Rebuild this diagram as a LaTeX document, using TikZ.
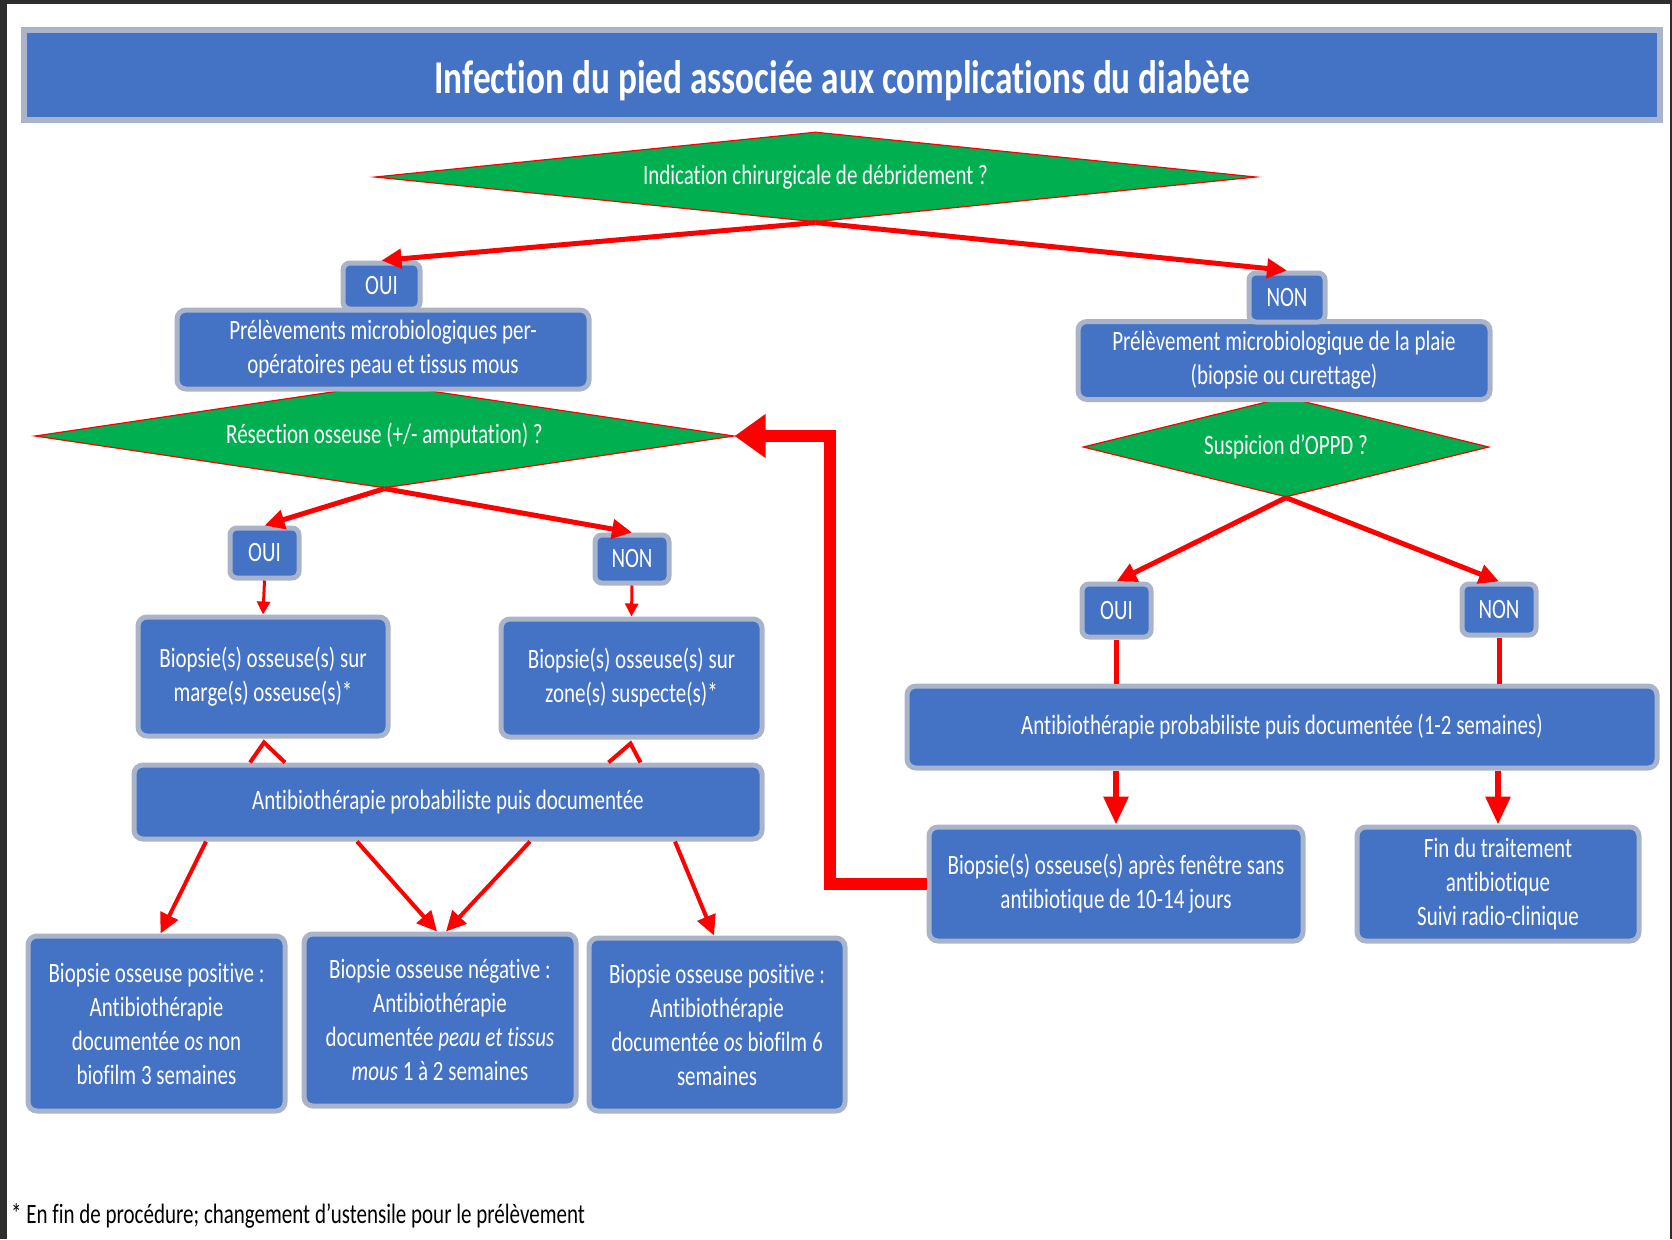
\documentclass[tikz,border=0pt]{standalone}
\usepackage{fontspec}
\setmainfont{Carlito}[FakeStretch=0.75, Ligatures=NoCommon]
\usetikzlibrary{shapes.geometric,arrows.meta,calc}

\definecolor{boxblue}{HTML}{4472C4}
\definecolor{boxedge}{HTML}{A9B4CB}
\definecolor{okgreen}{HTML}{00B050}
\definecolor{linkred}{HTML}{FF0000}
\definecolor{frame}{HTML}{2E2E2E}

\newcommand\boxfont{\fontsize{28}{34}\selectfont}
\newcommand\headfont{\fontsize{47}{54}\selectfont\bfseries}

\begin{document}
\begin{tikzpicture}[x=1pt,y=-1pt,
  box/.style={rectangle, rounded corners=9pt, fill=boxblue, draw=boxedge,
    line width=5pt, text=white, align=center, inner sep=0pt, font=\boxfont},
  tag/.style={box, rounded corners=7pt},
  decision/.style={diamond, fill=okgreen, draw=linkred, line width=1.2pt,
    text=white, inner sep=0pt, font=\boxfont},
  flow/.style={draw=linkred, line width=5pt, -{Triangle[length=20pt,width=19pt]}},
  thinflow/.style={draw=linkred, line width=3pt, -{Triangle[length=13pt,width=13pt]}},
  bigflow/.style={draw=linkred, line width=6pt, -{Triangle[length=28pt,width=24pt]}},
  plain/.style={draw=linkred, line width=5pt},
  loopback/.style={draw=linkred, line width=12pt, -{Triangle[length=31pt,width=42pt]}},
  hat/.style={draw=linkred, line width=4pt},
]
\useasboundingbox (0,0) rectangle (1672,1239);

% page frame
\fill[frame] (0,0) rectangle (1672,1239);
\fill[white] (7,4) rectangle (1670,1239);

% title banner and its heading
\node[box, rounded corners=0pt, line width=6pt, minimum width=1636, minimum height=90] (title) at (842,75) {};
\node[font=\headfont, text=white, inner sep=0pt] (heading) at ($(title.center)+(0,6)$)
  {Infection du pied associée aux complications du diabète};

% decisions
\node[decision, shape aspect=9.8, minimum width=881, minimum height=90] (d1) at (815.5,177)
  {Indication chirurgicale de débridement ?};
\node[decision, shape aspect=6.7, minimum width=699, minimum height=104] (d2) at (384.5,436)
  {Résection osseuse (+/- amputation) ?};
\node[decision, shape aspect=4, minimum width=406, minimum height=100] (d3) at (1286,447)
  {Suspicion d’OPPD ?};

% left branch
\node[box, minimum width=412, minimum height=79] (p1) at (383,349.5)
  {Prélèvements microbiologiques per-\\opératoires peau et tissus mous};
\node[tag, minimum width=77, minimum height=46] (oui1) at (381.5,286) {OUI};

\node[tag, minimum width=69, minimum height=50] (oui2) at (264.5,553) {OUI};
\node[tag, minimum width=74, minimum height=48] (non2) at (632,559) {NON};
\node[box, minimum width=250, minimum height=119] (b1) at (263,676.5)
  {Biopsie(s) osseuse(s) sur\\marge(s) osseuse(s)*};
\node[box, minimum width=261, minimum height=118] (b2) at (631.5,678)
  {Biopsie(s) osseuse(s) sur\\zone(s) suspecte(s)*};
\node[box, minimum width=628, minimum height=74] (a1) at (448,802)
  {Antibiothérapie probabiliste puis documentée};

\node[box, minimum width=257, minimum height=175] (c1) at (156.5,1023.5)
  {Biopsie osseuse positive :\\Antibiothérapie\\documentée \textit{os} non\\biofilm 3 semaines};
\node[box, minimum width=272, minimum height=172] (c2) at (440,1020)
  {Biopsie osseuse négative :\\Antibiothérapie\\documentée \textit{peau et tissus}\\\textit{mous} 1 à 2 semaines};
\node[box, minimum width=256, minimum height=173] (c3) at (717,1024.5)
  {Biopsie osseuse positive :\\Antibiothérapie\\documentée \textit{os} biofilm 6\\semaines};

% right branch
\node[box, minimum width=412, minimum height=78] (p2) at (1284,360.5)
  {Prélèvement microbiologique de la plaie\\(biopsie ou curettage)};
\node[tag, minimum width=76, minimum height=49] (non1) at (1287,297.5) {NON};

\node[tag, minimum width=69, minimum height=53] (oui3) at (1116.5,610.5) {OUI};
\node[tag, minimum width=74, minimum height=51] (non3) at (1499,609.5) {NON};
\node[box, minimum width=750, minimum height=82] (a2) at (1282,727)
  {Antibiothérapie probabiliste puis documentée (1-2 semaines)};
\node[box, minimum width=374, minimum height=114] (e1) at (1116,884)
  {Biopsie(s) osseuse(s) après fenêtre sans\\antibiotique de 10-14 jours};
\node[box, minimum width=282, minimum height=114] (e2) at (1498,884)
  {Fin du traitement\\antibiotique\\Suivi radio-clinique};

% footnote
\node[anchor=west, inner sep=0pt, font=\boxfont, text=black] (note) at (11,1216)
  {* En fin de procédure; changement d’ustensile pour le prélèvement};

% connectors
\draw[flow] (d1.south) -- (oui1.north);
\draw[flow] (d1.south) -- (non1.north);
\draw[flow] (d2.south) -- (oui2.north);
\draw[flow] (d2.south) -- (non2.north);
\draw[thinflow] (oui2.south) -- (b1.north);
\draw[thinflow] (non2.south) -- (b2.north);

\draw[hat] ($(b1.south |- a1.north)+(-13,0)$) -- ($(b1.south)+(1,4)$) -- ($(b1.south |- a1.north)+(22,0)$);
\draw[hat] ($(b2.south |- a1.north)+(-23,0)$) -- ($(b2.south)+(-1,4)$) -- ($(b2.south |- a1.north)+(9,0)$);

\draw[flow, line width=4pt] ($(a1.south)+(-242,0)$) -- ($(c1.north)+(4,0)$);
\draw[flow, line width=4pt] ($(a1.south)+(-91,0)$) -- ($(c2.north)+(-3,0)$);
\draw[flow, line width=4pt] ($(a1.south)+(82,0)$) -- ($(c2.north)+(6,0)$);
\draw[flow, line width=4pt] ($(a1.south)+(227,0)$) -- ($(c3.north)+(-3,0)$);

\draw[flow] (d3.south) -- (oui3.north);
\draw[flow] (d3.south) -- (non3.north);
\draw[plain] (oui3.south) -- (oui3.south |- a2.north);
\draw[plain] (non3.south) -- (non3.south |- a2.north);
\draw[bigflow] (e1.north |- a2.south) -- (e1.north);
\draw[bigflow] (e2.north |- a2.south) -- (e2.north);

\coordinate (turn) at (830,436);
\draw[loopback] (e1.west) -| (turn) -- (d2.east);
\end{tikzpicture}
\end{document}
